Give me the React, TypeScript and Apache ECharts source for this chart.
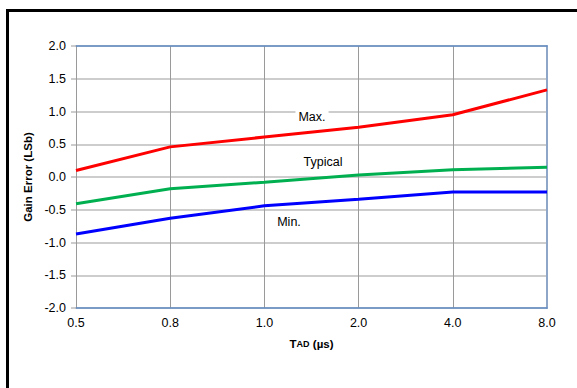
import React, { useEffect, useRef } from "react";
import * as echarts from "echarts";

const categories = ["0.5", "0.8", "1.0", "2.0", "4.0", "8.0"];
const maxValues = [0.1, 0.46, 0.61, 0.76, 0.95, 1.33];
const typicalValues = [-0.41, -0.18, -0.08, 0.03, 0.11, 0.15];
const minValues = [-0.87, -0.63, -0.44, -0.34, -0.23, -0.23];
const seriesNames = ["Max.", "Typical", "Min."];

export default function App() {
  const ref = useRef<HTMLDivElement>(null);
  useEffect(() => {
    if (!ref.current) return;
    const chart = echarts.init(ref.current, undefined, { renderer: "svg" });
    const font = "Liberation Sans, Arial, sans-serif";
    const blue = "#5f8ac4";
    chart.setOption({
      animation: false,
      backgroundColor: "#ffffff",
      grid: { left: 76, right: 30, top: 46, bottom: 80 },
      xAxis: [
        {
          type: "category",
          data: categories,
          boundaryGap: false,
          axisLine: { show: true, onZero: false, lineStyle: { color: blue, width: 1.5 } },
          axisTick: { show: false },
          axisLabel: { color: "#000", fontFamily: font, fontSize: 12.5, margin: 8 },
          splitLine: { show: true, lineStyle: { color: "#9a9a9a", width: 1 } },
          name: "{t|T}{s|AD} {t|(µs)}",
          nameLocation: "middle",
          nameGap: 30,
          nameTextStyle: {
            rich: {
              t: { fontFamily: font, fontSize: 11.5, fontWeight: "bold", color: "#000" },
              s: { fontFamily: font, fontSize: 9, fontWeight: "bold", color: "#000" },
            },
          },
        },
        {
          type: "category",
          data: categories,
          boundaryGap: false,
          position: "top",
          axisLine: { show: true, onZero: false, lineStyle: { color: blue, width: 1.5 } },
          axisTick: { show: false },
          axisLabel: { show: false },
          splitLine: { show: false },
        },
      ],
      yAxis: [
        {
          type: "value",
          min: -2,
          max: 2,
          interval: 0.5,
          axisLine: { show: true, onZero: false, lineStyle: { color: "#9a9a9a", width: 1 } },
          axisTick: { show: true, length: 5, lineStyle: { color: "#bbbbbb", width: 1.5 } },
          axisLabel: {
            color: "#000",
            fontFamily: font,
            fontSize: 12.5,
            margin: 10,
            formatter: (v: number) => v.toFixed(1),
          },
          splitLine: { show: true, lineStyle: { color: "#bdbdbd", width: 1.5 } },
          name: "Gain Error (LSb)",
          nameLocation: "middle",
          nameGap: 41,
          nameTextStyle: { fontFamily: font, fontSize: 11.5, fontWeight: "bold", color: "#000" },
        },
        {
          type: "value",
          min: -2,
          max: 2,
          interval: 0.5,
          position: "right",
          axisLine: { show: true, onZero: false, lineStyle: { color: "#8ea6c8", width: 2 } },
          axisTick: { show: false },
          axisLabel: { show: false },
          splitLine: { show: false },
        },
      ],
      series: [
        {
          name: seriesNames[0],
          type: "line",
          data: maxValues,
          symbol: "none",
          lineStyle: { color: "#ff0000", width: 3 },
          z: 5,
        },
        {
          name: seriesNames[1],
          type: "line",
          data: typicalValues,
          symbol: "none",
          lineStyle: { color: "#00b050", width: 3 },
          z: 5,
        },
        {
          name: seriesNames[2],
          type: "line",
          data: minValues,
          symbol: "none",
          lineStyle: { color: "#0000ff", width: 3 },
          z: 5,
        },
      ],
      graphic: [
        {
          type: "rect",
          shape: { x: 7.5, y: 10.5, width: 700, height: 500 },
          style: { fill: "none", stroke: "#000", lineWidth: 3 },
          silent: true,
        },
        {
          type: "text",
          x: 312,
          y: 117,
          style: {
            text: seriesNames[0],
            fontFamily: font,
            fontSize: 12.5,
            fill: "#000",
            align: "center",
            verticalAlign: "middle",
            backgroundColor: "#fff",
            padding: [1, 3],
          },
          z: 10,
        },
        {
          type: "text",
          x: 323,
          y: 162,
          style: {
            text: seriesNames[1],
            fontFamily: font,
            fontSize: 12.5,
            fill: "#000",
            align: "center",
            verticalAlign: "middle",
          },
          z: 10,
        },
        {
          type: "text",
          x: 289,
          y: 222,
          style: {
            text: seriesNames[2],
            fontFamily: font,
            fontSize: 12.5,
            fill: "#000",
            align: "center",
            verticalAlign: "middle",
          },
          z: 10,
        },
      ],
    });
    return () => chart.dispose();
  }, []);
  return (
    <div
      ref={ref}
      style={{ position: "fixed", left: 0, top: 0, width: 577, height: 388 }}
    />
  );
}
